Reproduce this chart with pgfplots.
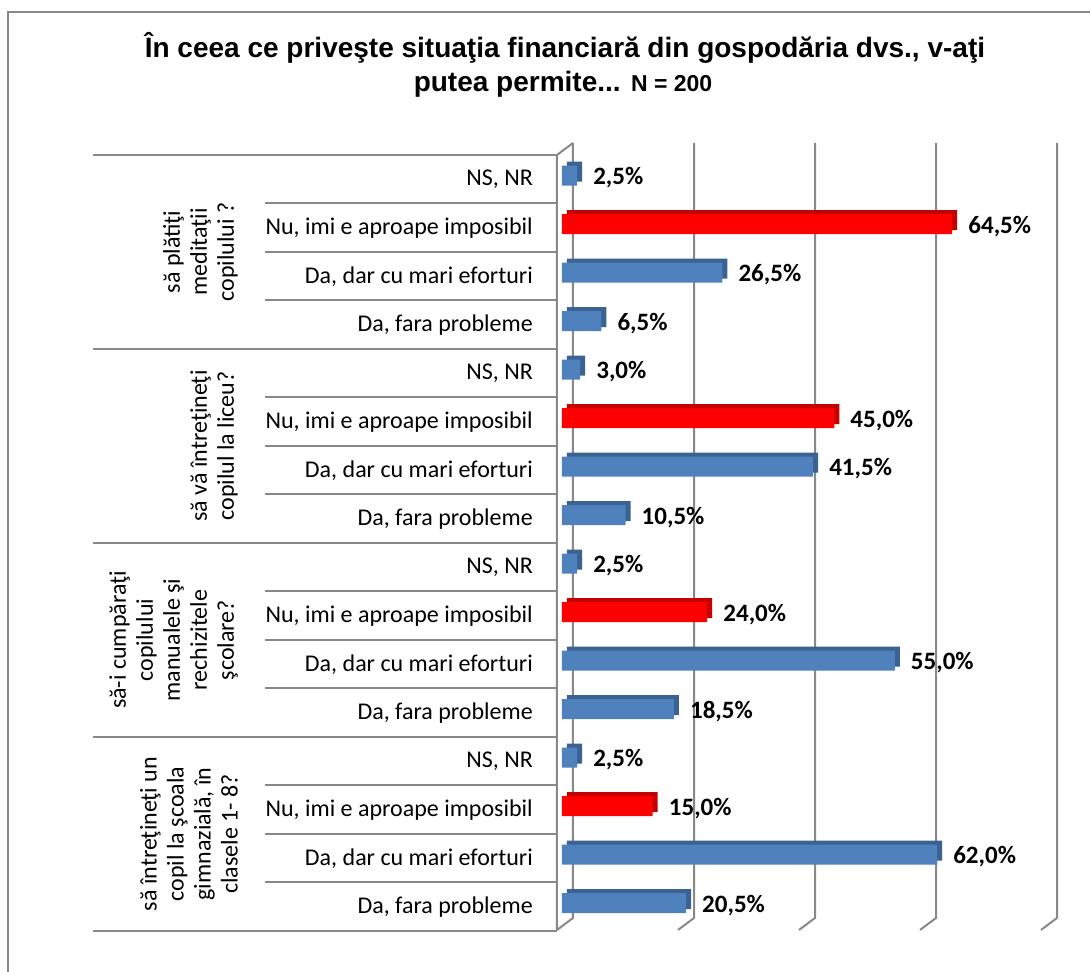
\documentclass[border=0pt]{standalone}
\usepackage{fontspec}
\setmainfont{Carlito}
\newfontfamily\titlefont{Liberation Sans}
\usepackage{pgfplots}
\pgfplotsset{compat=1.18}

\definecolor{barblue}{HTML}{4F81BD}
\definecolor{barbluedark}{HTML}{3A6292}
\definecolor{barred}{HTML}{FF0000}
\definecolor{barreddark}{HTML}{C40000}
\definecolor{gridgray}{HTML}{888888}

\begin{document}
\begin{tikzpicture}
\useasboundingbox (0pt,0pt) rectangle (1090pt,972pt);
% chart frame (right and bottom edges fall outside the picture)
\draw[gridgray, line width=2pt] (8pt,-2pt) -- (8pt,960pt) -- (1092pt,960pt);

% title
\node[anchor=base, inner sep=0pt, font=\titlefont\bfseries\fontsize{28}{34}\selectfont]
  at (565pt,914pt) {În ceea ce priveşte situaţia financiară din gospodăria dvs., v-aţi};
\node[anchor=base, inner sep=0pt, font=\titlefont\bfseries\fontsize{28}{34}\selectfont]
  at (563pt,880pt) {putea permite... {\fontsize{23}{28}\selectfont N = 200}};

\begin{axis}[
    at={(562pt,41pt)}, anchor=south west,
    scale only axis,
    width=484pt, height=776pt,
    xmin=0, xmax=80,
    ymin=-0.5, ymax=15.5,
    xbar,
    clip=false,
    axis line style={draw=none},
    xtick=\empty,
    ytick={0,...,15},
    yticklabels={
      {Da, fara probleme},{Da, dar cu mari eforturi},{Nu, imi e aproape imposibil},{NS, NR},
      {Da, fara probleme},{Da, dar cu mari eforturi},{Nu, imi e aproape imposibil},{NS, NR},
      {Da, fara probleme},{Da, dar cu mari eforturi},{Nu, imi e aproape imposibil},{NS, NR},
      {Da, fara probleme},{Da, dar cu mari eforturi},{Nu, imi e aproape imposibil},{NS, NR}},
    major tick length=0pt,
    yticklabel style={font=\fontsize{24}{29}\selectfont, anchor=east, inner sep=0pt, xshift=-29pt},
    /pgf/number format/assume math mode=true,
    bar width=20pt,
]
% back wall gridlines with 3D floor
\pgfplotsinvokeforeach{0,20,40,60,80}{
  \draw[gridgray, line width=2pt]
    ([xshift=11pt,yshift=12pt]axis cs:#1,15.5) -- ([xshift=11pt,yshift=13pt]axis cs:#1,-0.5)
    -- ([xshift=-5pt,yshift=1pt]axis cs:#1,-0.5);
}
% left wall
\draw[gridgray, line width=2pt]
  ([xshift=11pt,yshift=12pt]axis cs:0,15.5) -- ([xshift=-5pt]axis cs:0,15.5)
  -- ([xshift=-5pt,yshift=1pt]axis cs:0,-0.5);
% category table lines
\pgfplotsinvokeforeach{0.5,1.5,2.5,4.5,5.5,6.5,8.5,9.5,10.5,12.5,13.5,14.5}{
  \draw[gridgray, line width=2pt] ([xshift=-297pt]axis cs:0,#1) -- ([xshift=-5pt]axis cs:0,#1);
}
\pgfplotsinvokeforeach{-0.5,3.5,7.5,11.5,15.5}{
  \draw[gridgray, line width=2pt] ([xshift=-469pt]axis cs:0,#1) -- ([xshift=-5pt]axis cs:0,#1);
}
% group labels
\begin{scope}[every node/.style={rotate=90, anchor=south, align=center, inner sep=0pt,
    font=\fontsize{24}{27}\selectfont}]
\node at ([xshift=-324pt]axis cs:0,13.5) {să plătiţi\\meditaţii\\copilului ?};
\node at ([xshift=-324pt]axis cs:0,9.5) {să vă întreţineţi\\copilul la liceu?};
\node at ([xshift=-324pt]axis cs:0,5.5) {să-i cumpăraţi\\copilului\\manualele şi\\rechizitele\\şcolare?};
\node at ([xshift=-324pt]axis cs:0,1.5) {să întreţineţi un\\copil la şcoala\\gimnazială, în\\clasele 1- 8?};
\end{scope}

% bar depth (top and side faces)
\addplot[xbar, bar shift=7.5pt, xshift=5pt, fill=barbluedark, draw=none] coordinates {
  (20.5,0) (62.0,1) (2.5,3) (18.5,4) (55.0,5) (2.5,7)
  (10.5,8) (41.5,9) (3.0,11) (6.5,12) (26.5,13) (2.5,15)};
\addplot[xbar, bar shift=7.5pt, xshift=5pt, fill=barreddark, draw=none] coordinates {
  (15.0,2) (24.0,6) (45.0,10) (64.5,14)};
% bar fronts with value labels
\addplot[xbar, bar shift=3.5pt, fill=barblue, draw=none, point meta=x,
  nodes near coords={\pgfmathprintnumber[fixed,fixed zerofill,precision=1,use comma]{\pgfplotspointmeta}\%},
  nodes near coords style={font=\bfseries\fontsize{25}{30}\selectfont, black, anchor=west, inner sep=0pt, xshift=16pt, yshift=-2pt}]
  coordinates {
  (20.5,0) (62.0,1) (2.5,3) (18.5,4) (55.0,5) (2.5,7)
  (10.5,8) (41.5,9) (3.0,11) (6.5,12) (26.5,13) (2.5,15)};
\addplot[xbar, bar shift=3.5pt, fill=barred, draw=none, point meta=x,
  nodes near coords={\pgfmathprintnumber[fixed,fixed zerofill,precision=1,use comma]{\pgfplotspointmeta}\%},
  nodes near coords style={font=\bfseries\fontsize{25}{30}\selectfont, black, anchor=west, inner sep=0pt, xshift=16pt, yshift=-2pt}]
  coordinates {(15.0,2) (24.0,6) (45.0,10) (64.5,14)};
\end{axis}
\end{tikzpicture}
\end{document}
